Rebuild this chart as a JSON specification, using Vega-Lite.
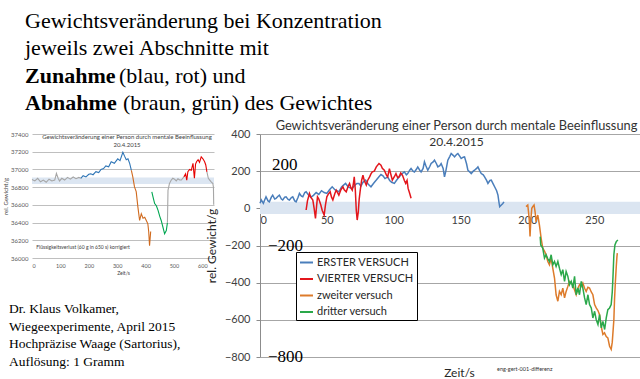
{
 "$schema": "https://vega.github.io/schema/vega-lite/v6.json",
 "padding": {"left": 2, "top": 0, "right": 0, "bottom": 0},
 "background": "white",
 "bounds": "flush",
 "spacing": 0,
 "config": {"view": {"stroke": null}, "font": "Lato"},
 "datasets": {
  "haupt": [
   {"versuch":"ERSTER VERSUCH","t":0,"g":27},{"versuch":"ERSTER VERSUCH","t":1,"g":45},{"versuch":"ERSTER VERSUCH","t":2.5,"g":27},{"versuch":"ERSTER VERSUCH","t":4.5,"g":62},{"versuch":"ERSTER VERSUCH","t":6,"g":40},{"versuch":"ERSTER VERSUCH","t":7,"g":35},{"versuch":"ERSTER VERSUCH","t":8.5,"g":60},{"versuch":"ERSTER VERSUCH","t":9.5,"g":71},{"versuch":"ERSTER VERSUCH","t":11,"g":50},{"versuch":"ERSTER VERSUCH","t":12,"g":54},{"versuch":"ERSTER VERSUCH","t":13.5,"g":65},{"versuch":"ERSTER VERSUCH","t":14.5,"g":71},{"versuch":"ERSTER VERSUCH","t":16,"g":50},{"versuch":"ERSTER VERSUCH","t":17,"g":45},{"versuch":"ERSTER VERSUCH","t":18.5,"g":60},{"versuch":"ERSTER VERSUCH","t":19.5,"g":62},{"versuch":"ERSTER VERSUCH","t":21,"g":48},{"versuch":"ERSTER VERSUCH","t":22,"g":45},{"versuch":"ERSTER VERSUCH","t":23.5,"g":58},{"versuch":"ERSTER VERSUCH","t":24.5,"g":62},{"versuch":"ERSTER VERSUCH","t":26,"g":40},{"versuch":"ERSTER VERSUCH","t":27,"g":35},{"versuch":"ERSTER VERSUCH","t":28.5,"g":60},{"versuch":"ERSTER VERSUCH","t":29.5,"g":80},{"versuch":"ERSTER VERSUCH","t":31,"g":65},{"versuch":"ERSTER VERSUCH","t":32,"g":62},{"versuch":"ERSTER VERSUCH","t":33.5,"g":85},{"versuch":"ERSTER VERSUCH","t":34.5,"g":89},{"versuch":"ERSTER VERSUCH","t":36,"g":75},{"versuch":"ERSTER VERSUCH","t":38,"g":60},{"versuch":"ERSTER VERSUCH","t":40,"g":70},{"versuch":"ERSTER VERSUCH","t":42,"g":85},{"versuch":"ERSTER VERSUCH","t":44,"g":75},{"versuch":"ERSTER VERSUCH","t":46,"g":95},{"versuch":"ERSTER VERSUCH","t":48,"g":85},{"versuch":"ERSTER VERSUCH","t":50,"g":80},{"versuch":"ERSTER VERSUCH","t":52,"g":100},{"versuch":"ERSTER VERSUCH","t":54,"g":116},{"versuch":"ERSTER VERSUCH","t":56,"g":100},{"versuch":"ERSTER VERSUCH","t":57.5,"g":95},{"versuch":"ERSTER VERSUCH","t":59,"g":89},{"versuch":"ERSTER VERSUCH","t":61,"g":115},{"versuch":"ERSTER VERSUCH","t":62.5,"g":125},{"versuch":"ERSTER VERSUCH","t":64,"g":134},{"versuch":"ERSTER VERSUCH","t":66,"g":115},{"versuch":"ERSTER VERSUCH","t":67.5,"g":110},{"versuch":"ERSTER VERSUCH","t":69,"g":107},{"versuch":"ERSTER VERSUCH","t":71,"g":125},{"versuch":"ERSTER VERSUCH","t":72.5,"g":134},{"versuch":"ERSTER VERSUCH","t":74,"g":134},{"versuch":"ERSTER VERSUCH","t":75.5,"g":120},{"versuch":"ERSTER VERSUCH","t":77,"g":140},{"versuch":"ERSTER VERSUCH","t":79,"g":152},{"versuch":"ERSTER VERSUCH","t":81,"g":130},{"versuch":"ERSTER VERSUCH","t":83,"g":116},{"versuch":"ERSTER VERSUCH","t":85,"g":135},{"versuch":"ERSTER VERSUCH","t":87,"g":152},{"versuch":"ERSTER VERSUCH","t":89,"g":170},{"versuch":"ERSTER VERSUCH","t":90.5,"g":182},{"versuch":"ERSTER VERSUCH","t":92,"g":175},{"versuch":"ERSTER VERSUCH","t":93.5,"g":160},{"versuch":"ERSTER VERSUCH","t":95.5,"g":169},{"versuch":"ERSTER VERSUCH","t":97,"g":150},{"versuch":"ERSTER VERSUCH","t":98.5,"g":140},{"versuch":"ERSTER VERSUCH","t":100.5,"g":134},{"versuch":"ERSTER VERSUCH","t":102,"g":150},{"versuch":"ERSTER VERSUCH","t":104,"g":169},{"versuch":"ERSTER VERSUCH","t":106,"g":185},{"versuch":"ERSTER VERSUCH","t":108,"g":196},{"versuch":"ERSTER VERSUCH","t":109.5,"g":180},{"versuch":"ERSTER VERSUCH","t":110.5,"g":187},{"versuch":"ERSTER VERSUCH","t":112,"g":205},{"versuch":"ERSTER VERSUCH","t":113,"g":214},{"versuch":"ERSTER VERSUCH","t":114.5,"g":200},{"versuch":"ERSTER VERSUCH","t":115.5,"g":196},{"versuch":"ERSTER VERSUCH","t":117,"g":210},{"versuch":"ERSTER VERSUCH","t":118,"g":223},{"versuch":"ERSTER VERSUCH","t":119.5,"g":205},{"versuch":"ERSTER VERSUCH","t":120.5,"g":196},{"versuch":"ERSTER VERSUCH","t":122,"g":215},{"versuch":"ERSTER VERSUCH","t":123,"g":250},{"versuch":"ERSTER VERSUCH","t":124,"g":230},{"versuch":"ERSTER VERSUCH","t":125.5,"g":205},{"versuch":"ERSTER VERSUCH","t":127,"g":225},{"versuch":"ERSTER VERSUCH","t":128,"g":241},{"versuch":"ERSTER VERSUCH","t":129.5,"g":250},{"versuch":"ERSTER VERSUCH","t":130.5,"g":259},{"versuch":"ERSTER VERSUCH","t":132,"g":240},{"versuch":"ERSTER VERSUCH","t":133,"g":223},{"versuch":"ERSTER VERSUCH","t":134.5,"g":230},{"versuch":"ERSTER VERSUCH","t":135.5,"g":241},{"versuch":"ERSTER VERSUCH","t":137,"g":215},{"versuch":"ERSTER VERSUCH","t":138,"g":169},{"versuch":"ERSTER VERSUCH","t":139,"g":200},{"versuch":"ERSTER VERSUCH","t":140.5,"g":259},{"versuch":"ERSTER VERSUCH","t":142,"g":280},{"versuch":"ERSTER VERSUCH","t":143,"g":295},{"versuch":"ERSTER VERSUCH","t":144.5,"g":285},{"versuch":"ERSTER VERSUCH","t":145.5,"g":277},{"versuch":"ERSTER VERSUCH","t":147,"g":290},{"versuch":"ERSTER VERSUCH","t":148,"g":295},{"versuch":"ERSTER VERSUCH","t":149.5,"g":280},{"versuch":"ERSTER VERSUCH","t":150.5,"g":268},{"versuch":"ERSTER VERSUCH","t":152,"g":275},{"versuch":"ERSTER VERSUCH","t":153,"g":277},{"versuch":"ERSTER VERSUCH","t":154.5,"g":240},{"versuch":"ERSTER VERSUCH","t":155.5,"g":205},{"versuch":"ERSTER VERSUCH","t":157,"g":195},{"versuch":"ERSTER VERSUCH","t":158,"g":187},{"versuch":"ERSTER VERSUCH","t":159.5,"g":200},{"versuch":"ERSTER VERSUCH","t":160.5,"g":205},{"versuch":"ERSTER VERSUCH","t":162,"g":215},{"versuch":"ERSTER VERSUCH","t":163,"g":223},{"versuch":"ERSTER VERSUCH","t":164.5,"g":200},{"versuch":"ERSTER VERSUCH","t":165.5,"g":187},{"versuch":"ERSTER VERSUCH","t":167,"g":180},{"versuch":"ERSTER VERSUCH","t":168,"g":169},{"versuch":"ERSTER VERSUCH","t":169.5,"g":150},{"versuch":"ERSTER VERSUCH","t":170.5,"g":134},{"versuch":"ERSTER VERSUCH","t":172,"g":150},{"versuch":"ERSTER VERSUCH","t":173,"g":152},{"versuch":"ERSTER VERSUCH","t":174.5,"g":130},{"versuch":"ERSTER VERSUCH","t":175.5,"g":116},{"versuch":"ERSTER VERSUCH","t":177,"g":95},{"versuch":"ERSTER VERSUCH","t":178,"g":71},{"versuch":"ERSTER VERSUCH","t":178.8,"g":30},{"versuch":"ERSTER VERSUCH","t":179.3,"g":9},{"versuch":"ERSTER VERSUCH","t":180.5,"g":18},{"versuch":"ERSTER VERSUCH","t":181.5,"g":25},{"versuch":"ERSTER VERSUCH","t":182.5,"g":35},
   {"versuch":"VIERTER VERSUCH","t":34.5,"g":-9},{"versuch":"VIERTER VERSUCH","t":35.5,"g":40},{"versuch":"VIERTER VERSUCH","t":37,"g":80},{"versuch":"VIERTER VERSUCH","t":38,"g":60},{"versuch":"VIERTER VERSUCH","t":39.5,"g":45},{"versuch":"VIERTER VERSUCH","t":40.5,"g":0},{"versuch":"VIERTER VERSUCH","t":41.5,"g":-54},{"versuch":"VIERTER VERSUCH","t":42.3,"g":10},{"versuch":"VIERTER VERSUCH","t":43,"g":62},{"versuch":"VIERTER VERSUCH","t":44,"g":50},{"versuch":"VIERTER VERSUCH","t":45.5,"g":18},{"versuch":"VIERTER VERSUCH","t":46.5,"g":-10},{"versuch":"VIERTER VERSUCH","t":48,"g":-36},{"versuch":"VIERTER VERSUCH","t":49,"g":20},{"versuch":"VIERTER VERSUCH","t":50,"g":62},{"versuch":"VIERTER VERSUCH","t":51,"g":75},{"versuch":"VIERTER VERSUCH","t":52.5,"g":89},{"versuch":"VIERTER VERSUCH","t":53.5,"g":60},{"versuch":"VIERTER VERSUCH","t":54.5,"g":45},{"versuch":"VIERTER VERSUCH","t":56,"g":80},{"versuch":"VIERTER VERSUCH","t":57,"g":98},{"versuch":"VIERTER VERSUCH","t":58,"g":85},{"versuch":"VIERTER VERSUCH","t":59,"g":71},{"versuch":"VIERTER VERSUCH","t":60.5,"g":100},{"versuch":"VIERTER VERSUCH","t":62,"g":116},{"versuch":"VIERTER VERSUCH","t":63,"g":100},{"versuch":"VIERTER VERSUCH","t":64.5,"g":89},{"versuch":"VIERTER VERSUCH","t":66,"g":120},{"versuch":"VIERTER VERSUCH","t":67,"g":134},{"versuch":"VIERTER VERSUCH","t":68,"g":110},{"versuch":"VIERTER VERSUCH","t":69,"g":98},{"versuch":"VIERTER VERSUCH","t":70,"g":140},{"versuch":"VIERTER VERSUCH","t":70.5,"g":169},{"versuch":"VIERTER VERSUCH","t":71.3,"g":100},{"versuch":"VIERTER VERSUCH","t":72,"g":-9},{"versuch":"VIERTER VERSUCH","t":72.7,"g":-63},{"versuch":"VIERTER VERSUCH","t":73.5,"g":-20},{"versuch":"VIERTER VERSUCH","t":74.2,"g":50},{"versuch":"VIERTER VERSUCH","t":75,"g":98},{"versuch":"VIERTER VERSUCH","t":76,"g":150},{"versuch":"VIERTER VERSUCH","t":77,"g":178},{"versuch":"VIERTER VERSUCH","t":78,"g":150},{"versuch":"VIERTER VERSUCH","t":79.5,"g":125},{"versuch":"VIERTER VERSUCH","t":80.5,"g":150},{"versuch":"VIERTER VERSUCH","t":82,"g":169},{"versuch":"VIERTER VERSUCH","t":83,"g":185},{"versuch":"VIERTER VERSUCH","t":84,"g":196},{"versuch":"VIERTER VERSUCH","t":85.5,"g":200},{"versuch":"VIERTER VERSUCH","t":87,"g":223},{"versuch":"VIERTER VERSUCH","t":89,"g":241},{"versuch":"VIERTER VERSUCH","t":90.5,"g":232},{"versuch":"VIERTER VERSUCH","t":91.5,"g":215},{"versuch":"VIERTER VERSUCH","t":93,"g":205},{"versuch":"VIERTER VERSUCH","t":94.5,"g":180},{"versuch":"VIERTER VERSUCH","t":95.5,"g":169},{"versuch":"VIERTER VERSUCH","t":96.8,"g":214},{"versuch":"VIERTER VERSUCH","t":97.8,"g":185},{"versuch":"VIERTER VERSUCH","t":99,"g":152},{"versuch":"VIERTER VERSUCH","t":100.5,"g":170},{"versuch":"VIERTER VERSUCH","t":101.7,"g":187},{"versuch":"VIERTER VERSUCH","t":103,"g":165},{"versuch":"VIERTER VERSUCH","t":104,"g":169},{"versuch":"VIERTER VERSUCH","t":105.3,"g":190},{"versuch":"VIERTER VERSUCH","t":106.6,"g":178},{"versuch":"VIERTER VERSUCH","t":108,"g":150},{"versuch":"VIERTER VERSUCH","t":109,"g":134},{"versuch":"VIERTER VERSUCH","t":110,"g":150},{"versuch":"VIERTER VERSUCH","t":110.8,"g":107},{"versuch":"VIERTER VERSUCH","t":112,"g":80},{"versuch":"VIERTER VERSUCH","t":113,"g":54},
   {"versuch":"zweiter versuch","t":199,"g":9},{"versuch":"zweiter versuch","t":200.3,"g":18},{"versuch":"zweiter versuch","t":201,"g":-30},{"versuch":"zweiter versuch","t":201.5,"g":-72},{"versuch":"zweiter versuch","t":202,"g":-152},{"versuch":"zweiter versuch","t":202.6,"g":-60},{"versuch":"zweiter versuch","t":203.3,"g":0},{"versuch":"zweiter versuch","t":204,"g":9},{"versuch":"zweiter versuch","t":205,"g":18},{"versuch":"zweiter versuch","t":205.8,"g":-20},{"versuch":"zweiter versuch","t":206.5,"g":-72},{"versuch":"zweiter versuch","t":207.2,"g":-50},{"versuch":"zweiter versuch","t":207.8,"g":-36},{"versuch":"zweiter versuch","t":209,"g":-89},{"versuch":"zweiter versuch","t":210.3,"g":-161},{"versuch":"zweiter versuch","t":211.5,"g":-214},{"versuch":"zweiter versuch","t":212.8,"g":-230},{"versuch":"zweiter versuch","t":214,"g":-250},{"versuch":"zweiter versuch","t":215.3,"g":-286},{"versuch":"zweiter versuch","t":216.5,"g":-304},{"versuch":"zweiter versuch","t":217.8,"g":-268},{"versuch":"zweiter versuch","t":219,"g":-322},{"versuch":"zweiter versuch","t":220.3,"g":-375},{"versuch":"zweiter versuch","t":221.5,"g":-465},{"versuch":"zweiter versuch","t":222.8,"g":-500},{"versuch":"zweiter versuch","t":224,"g":-447},{"versuch":"zweiter versuch","t":225.3,"g":-465},{"versuch":"zweiter versuch","t":226.5,"g":-429},{"versuch":"zweiter versuch","t":227.8,"g":-482},{"versuch":"zweiter versuch","t":229,"g":-447},{"versuch":"zweiter versuch","t":230.3,"g":-420},{"versuch":"zweiter versuch","t":231.5,"g":-393},{"versuch":"zweiter versuch","t":232.8,"g":-400},{"versuch":"zweiter versuch","t":234,"g":-411},{"versuch":"zweiter versuch","t":235.3,"g":-440},{"versuch":"zweiter versuch","t":236.5,"g":-465},{"versuch":"zweiter versuch","t":237.8,"g":-430},{"versuch":"zweiter versuch","t":239,"g":-411},{"versuch":"zweiter versuch","t":240.3,"g":-420},{"versuch":"zweiter versuch","t":241.5,"g":-402},{"versuch":"zweiter versuch","t":242.8,"g":-430},{"versuch":"zweiter versuch","t":244,"g":-447},{"versuch":"zweiter versuch","t":245.3,"g":-425},{"versuch":"zweiter versuch","t":246.5,"g":-429},{"versuch":"zweiter versuch","t":247.8,"g":-450},{"versuch":"zweiter versuch","t":249,"g":-465},{"versuch":"zweiter versuch","t":250.3,"g":-518},{"versuch":"zweiter versuch","t":251.5,"g":-536},{"versuch":"zweiter versuch","t":252.8,"g":-550},{"versuch":"zweiter versuch","t":254,"g":-572},{"versuch":"zweiter versuch","t":255.2,"g":-634},{"versuch":"zweiter versuch","t":256.5,"g":-679},{"versuch":"zweiter versuch","t":257.7,"g":-670},{"versuch":"zweiter versuch","t":259,"g":-690},{"versuch":"zweiter versuch","t":260.2,"g":-697},{"versuch":"zweiter versuch","t":261.5,"g":-742},{"versuch":"zweiter versuch","t":262.7,"g":-759},{"versuch":"zweiter versuch","t":263.5,"g":-720},{"versuch":"zweiter versuch","t":264,"g":-670},{"versuch":"zweiter versuch","t":264.7,"g":-600},{"versuch":"zweiter versuch","t":265.2,"g":-491},{"versuch":"zweiter versuch","t":265.8,"g":-400},{"versuch":"zweiter versuch","t":266.5,"g":-313},{"versuch":"zweiter versuch","t":267,"g":-260},{"versuch":"zweiter versuch","t":267.3,"g":-241},
   {"versuch":"dritter versuch","t":209.6,"g":-152},{"versuch":"dritter versuch","t":210,"g":-197},{"versuch":"dritter versuch","t":211.5,"g":-214},{"versuch":"dritter versuch","t":212.8,"g":-268},{"versuch":"dritter versuch","t":214,"g":-250},{"versuch":"dritter versuch","t":215.2,"g":-270},{"versuch":"dritter versuch","t":216.5,"g":-286},{"versuch":"dritter versuch","t":217.8,"g":-250},{"versuch":"dritter versuch","t":219,"g":-304},{"versuch":"dritter versuch","t":220.3,"g":-286},{"versuch":"dritter versuch","t":221.5,"g":-313},{"versuch":"dritter versuch","t":222.8,"g":-286},{"versuch":"dritter versuch","t":224,"g":-322},{"versuch":"dritter versuch","t":225.3,"g":-357},{"versuch":"dritter versuch","t":226.5,"g":-330},{"versuch":"dritter versuch","t":227.8,"g":-393},{"versuch":"dritter versuch","t":229,"g":-340},{"versuch":"dritter versuch","t":230.3,"g":-366},{"versuch":"dritter versuch","t":231.5,"g":-411},{"versuch":"dritter versuch","t":232.8,"g":-393},{"versuch":"dritter versuch","t":234,"g":-429},{"versuch":"dritter versuch","t":235.3,"g":-366},{"versuch":"dritter versuch","t":236.5,"g":-465},{"versuch":"dritter versuch","t":237.8,"g":-429},{"versuch":"dritter versuch","t":239,"g":-465},{"versuch":"dritter versuch","t":240.3,"g":-393},{"versuch":"dritter versuch","t":241.5,"g":-429},{"versuch":"dritter versuch","t":242.8,"g":-482},{"versuch":"dritter versuch","t":244,"g":-518},{"versuch":"dritter versuch","t":245.3,"g":-465},{"versuch":"dritter versuch","t":246.5,"g":-518},{"versuch":"dritter versuch","t":247.8,"g":-536},{"versuch":"dritter versuch","t":249,"g":-590},{"versuch":"dritter versuch","t":250.3,"g":-554},{"versuch":"dritter versuch","t":251.5,"g":-599},{"versuch":"dritter versuch","t":252.8,"g":-625},{"versuch":"dritter versuch","t":254,"g":-572},{"versuch":"dritter versuch","t":255.3,"g":-643},{"versuch":"dritter versuch","t":256.5,"g":-608},{"versuch":"dritter versuch","t":257.8,"g":-652},{"versuch":"dritter versuch","t":259,"g":-590},{"versuch":"dritter versuch","t":260.2,"g":-545},{"versuch":"dritter versuch","t":261.5,"g":-536},{"versuch":"dritter versuch","t":262.7,"g":-518},{"versuch":"dritter versuch","t":263.5,"g":-450},{"versuch":"dritter versuch","t":264,"g":-375},{"versuch":"dritter versuch","t":264.7,"g":-250},{"versuch":"dritter versuch","t":265.5,"g":-197},{"versuch":"dritter versuch","t":266.5,"g":-179},{"versuch":"dritter versuch","t":267.7,"g":-170}
  ],
  "klein": [
   {"abschnitt":"a","phase":"zwischen","t":0,"g":36886},{"abschnitt":"a","phase":"zwischen","t":10,"g":36870},{"abschnitt":"a","phase":"zwischen","t":20,"g":36900},{"abschnitt":"a","phase":"zwischen","t":30,"g":36860},{"abschnitt":"a","phase":"zwischen","t":40,"g":36880},{"abschnitt":"a","phase":"zwischen","t":50,"g":36855},{"abschnitt":"a","phase":"zwischen","t":60,"g":36890},{"abschnitt":"a","phase":"zwischen","t":70,"g":36870},{"abschnitt":"a","phase":"zwischen","t":80,"g":36880},{"abschnitt":"a","phase":"zwischen","t":86,"g":36955},{"abschnitt":"a","phase":"zwischen","t":92,"g":36900},{"abschnitt":"a","phase":"zwischen","t":97,"g":36870},{"abschnitt":"a","phase":"zwischen","t":105,"g":36900},{"abschnitt":"a","phase":"zwischen","t":115,"g":36880},{"abschnitt":"a","phase":"zwischen","t":125,"g":36910},{"abschnitt":"a","phase":"zwischen","t":135,"g":36890},{"abschnitt":"a","phase":"zwischen","t":145,"g":36915},{"abschnitt":"a","phase":"zwischen","t":155,"g":36895},{"abschnitt":"a","phase":"zwischen","t":165,"g":36910},{"abschnitt":"a","phase":"zwischen","t":172,"g":36900},
   {"abschnitt":"b","phase":"erster","t":172,"g":36900},{"abschnitt":"b","phase":"erster","t":180,"g":36930},{"abschnitt":"b","phase":"erster","t":190,"g":36915},{"abschnitt":"b","phase":"erster","t":200,"g":36945},{"abschnitt":"b","phase":"erster","t":207,"g":36950},{"abschnitt":"b","phase":"erster","t":215,"g":36940},{"abschnitt":"b","phase":"erster","t":225,"g":36975},{"abschnitt":"b","phase":"erster","t":235,"g":36965},{"abschnitt":"b","phase":"erster","t":243,"g":37000},{"abschnitt":"b","phase":"erster","t":252,"g":37010},{"abschnitt":"b","phase":"erster","t":260,"g":37040},{"abschnitt":"b","phase":"erster","t":270,"g":37030},{"abschnitt":"b","phase":"erster","t":279,"g":37086},{"abschnitt":"b","phase":"erster","t":290,"g":37070},{"abschnitt":"b","phase":"erster","t":302,"g":37120},{"abschnitt":"b","phase":"erster","t":310,"g":37100},{"abschnitt":"b","phase":"erster","t":320,"g":37193},{"abschnitt":"b","phase":"erster","t":326,"g":37150},{"abschnitt":"b","phase":"erster","t":332,"g":37110},{"abschnitt":"b","phase":"erster","t":338,"g":37120},{"abschnitt":"b","phase":"erster","t":344,"g":37068},{"abschnitt":"b","phase":"erster","t":350,"g":36990},
   {"abschnitt":"c","phase":"zweiter","t":350,"g":36990},{"abschnitt":"c","phase":"zweiter","t":355,"g":36916},{"abschnitt":"c","phase":"zweiter","t":361,"g":36802},{"abschnitt":"c","phase":"zweiter","t":367,"g":36750},{"abschnitt":"c","phase":"zweiter","t":373,"g":36575},{"abschnitt":"c","phase":"zweiter","t":379,"g":36424},{"abschnitt":"c","phase":"zweiter","t":385,"g":36500},{"abschnitt":"c","phase":"zweiter","t":391,"g":36450},{"abschnitt":"c","phase":"zweiter","t":397,"g":36460},{"abschnitt":"c","phase":"zweiter","t":403,"g":36420},{"abschnitt":"c","phase":"zweiter","t":408,"g":36386},{"abschnitt":"c","phase":"zweiter","t":411,"g":36300},{"abschnitt":"c","phase":"zweiter","t":414,"g":36140},{"abschnitt":"c","phase":"zweiter","t":418,"g":36300},
   {"abschnitt":"d","phase":"dritter","t":422,"g":36746},{"abschnitt":"d","phase":"dritter","t":427,"g":36680},{"abschnitt":"d","phase":"dritter","t":432,"g":36614},{"abschnitt":"d","phase":"dritter","t":438,"g":36590},{"abschnitt":"d","phase":"dritter","t":444,"g":36537},{"abschnitt":"d","phase":"dritter","t":450,"g":36470},{"abschnitt":"d","phase":"dritter","t":455,"g":36424},{"abschnitt":"d","phase":"dritter","t":461,"g":36350},{"abschnitt":"d","phase":"dritter","t":467,"g":36273},{"abschnitt":"d","phase":"dritter","t":473,"g":36310},{"abschnitt":"d","phase":"dritter","t":477,"g":36400},
   {"abschnitt":"e","phase":"zwischen","t":477,"g":36400},{"abschnitt":"e","phase":"zwischen","t":479,"g":36765},{"abschnitt":"e","phase":"zwischen","t":484,"g":36840},{"abschnitt":"e","phase":"zwischen","t":490,"g":36878},{"abschnitt":"e","phase":"zwischen","t":496,"g":36900},{"abschnitt":"e","phase":"zwischen","t":502,"g":36890},{"abschnitt":"e","phase":"zwischen","t":508,"g":36870},{"abschnitt":"e","phase":"zwischen","t":514,"g":36895},{"abschnitt":"e","phase":"zwischen","t":520,"g":36880},{"abschnitt":"e","phase":"zwischen","t":526,"g":36880},{"abschnitt":"e","phase":"zwischen","t":535,"g":36916},
   {"abschnitt":"f","phase":"vierter","t":535,"g":36916},{"abschnitt":"f","phase":"vierter","t":541,"g":36950},{"abschnitt":"f","phase":"vierter","t":545,"g":36880},{"abschnitt":"f","phase":"vierter","t":549,"g":36975},{"abschnitt":"f","phase":"vierter","t":555,"g":37000},{"abschnitt":"f","phase":"vierter","t":561,"g":36990},{"abschnitt":"f","phase":"vierter","t":567,"g":37068},{"abschnitt":"f","phase":"vierter","t":572,"g":36900},{"abschnitt":"f","phase":"vierter","t":576,"g":37060},{"abschnitt":"f","phase":"vierter","t":580,"g":37090},{"abschnitt":"f","phase":"vierter","t":585,"g":37110},{"abschnitt":"f","phase":"vierter","t":590,"g":37080},{"abschnitt":"f","phase":"vierter","t":596,"g":37143},{"abschnitt":"f","phase":"vierter","t":602,"g":37120},{"abschnitt":"f","phase":"vierter","t":608,"g":37087},{"abschnitt":"f","phase":"vierter","t":612,"g":37050},{"abschnitt":"f","phase":"vierter","t":616,"g":36973},
   {"abschnitt":"g","phase":"zwischen","t":616,"g":36973},{"abschnitt":"g","phase":"zwischen","t":621,"g":36900},{"abschnitt":"g","phase":"zwischen","t":626,"g":36880},{"abschnitt":"g","phase":"zwischen","t":631,"g":36860},{"abschnitt":"g","phase":"zwischen","t":637,"g":36840},{"abschnitt":"g","phase":"zwischen","t":639,"g":36800},{"abschnitt":"g","phase":"zwischen","t":640,"g":36600}
  ]
 },
 "resolve": {"scale": {"color": "independent"}, "legend": {"color": "independent"}},
 "vconcat": [
  {
   "width": 600, "height": 134,
   "layer": [
    {"data": {"values": [{"zeile": 1, "text": "Gewichtsveränderung bei Konzentration"}, {"zeile": 2, "text": "jeweils zwei Abschnitte mit"}]},
     "mark": {"type": "text", "align": "left", "baseline": "alphabetic", "font": "Liberation Serif", "fontSize": 22, "dx": -7, "color": "black"},
     "encoding": {"x": {"value": 0}, "y": {"field": "zeile", "type": "ordinal", "axis": null, "scale": {"domain": [1, 2, 3, 4], "range": [28, 110], "padding": 0}}, "text": {"field": "text"}}},
    {"data": {"values": [{"zeile": 3, "text": "Zunahme"}, {"zeile": 4, "text": "Abnahme"}]},
     "mark": {"type": "text", "align": "left", "baseline": "alphabetic", "font": "Liberation Serif", "fontSize": 22, "fontWeight": "bold", "dx": -7, "color": "black"},
     "encoding": {"x": {"value": 0}, "y": {"field": "zeile", "type": "ordinal", "axis": null, "scale": {"domain": [1, 2, 3, 4], "range": [28, 110], "padding": 0}}, "text": {"field": "text"}}},
    {"data": {"values": [{"zeile": 3, "text": "(blau, rot) und"}]},
     "mark": {"type": "text", "align": "left", "baseline": "alphabetic", "font": "Liberation Serif", "fontSize": 22, "dx": 87, "color": "black"},
     "encoding": {"x": {"value": 0}, "y": {"field": "zeile", "type": "ordinal", "axis": null, "scale": {"domain": [1, 2, 3, 4], "range": [28, 110], "padding": 0}}, "text": {"field": "text"}}},
    {"data": {"values": [{"zeile": 4, "text": "(braun, grün) des Gewichtes"}]},
     "mark": {"type": "text", "align": "left", "baseline": "alphabetic", "font": "Liberation Serif", "fontSize": 22, "dx": 91, "color": "black"},
     "encoding": {"x": {"value": 0}, "y": {"field": "zeile", "type": "ordinal", "axis": null, "scale": {"domain": [1, 2, 3, 4], "range": [28, 110], "padding": 0}}, "text": {"field": "text"}}}
   ]
  },
  {
   "bounds": "flush",
   "spacing": 228,
   "resolve": {"scale": {"color": "independent"}, "legend": {"color": "independent"}},
   "hconcat": [
    {
     "bounds": "flush",
     "spacing": 0,
     "vconcat": [
      {
       "width": 182, "height": 124,
       "title": {"text": "Gewichtsveränderung einer Person durch mentale Beeinflussung", "subtitle": "20.4.2015", "fontSize": 6, "subtitleFontSize": 6, "fontWeight": "normal", "color": "#404040", "subtitleColor": "#404040", "font": "Lato", "subtitleFont": "Lato", "offset": -17, "frame": "group", "anchor": "middle", "subtitlePadding": 2, "dx": 4},
       "layer": [
        {"data": {"values": [{"von": 36835, "bis": 36910}]},
         "mark": {"type": "rect", "color": "#dce6f2"},
         "encoding": {"y": {"field": "von", "type": "quantitative", "scale": {"domain": [36000, 37400], "nice": false, "zero": false}}, "y2": {"field": "bis"}}},
        {"data": {"name": "klein"},
         "mark": {"type": "line", "strokeWidth": 1.1},
         "encoding": {
          "x": {"field": "t", "type": "quantitative", "scale": {"domain": [0, 641], "nice": false},
                "axis": {"title": "Zeit/s", "values": [0, 100, 200, 300, 400, 500, 600], "tickCount": 30, "labelOverlap": false, "grid": false, "domain": false, "ticks": false, "labelFontSize": 5.5, "labelColor": "#595959", "labelPadding": 5, "titleFontSize": 5, "titleFontWeight": "normal", "titleColor": "#404040", "titlePadding": 2}},
          "y": {"field": "g", "type": "quantitative", "scale": {"domain": [36000, 37400], "nice": false, "zero": false},
                "axis": {"title": "rel. Gewicht/g", "format": "d", "values": [36000, 36200, 36400, 36600, 36800, 37000, 37200, 37400], "tickCount": 30, "labelOverlap": false, "grid": true, "gridColor": "#bfbfbf", "domain": false, "ticks": false, "labelFontSize": 6, "labelColor": "#595959", "labelPadding": 4, "titleFontSize": 6, "titleFontWeight": "normal", "titleColor": "#404040", "titlePadding": 2}},
          "color": {"field": "phase", "type": "nominal", "legend": null, "scale": {"domain": ["zwischen", "erster", "zweiter", "dritter", "vierter"], "range": ["#a6a6a6", "#2e75b6", "#d06a1e", "#00a651", "#e60000"]}},
          "detail": {"field": "abschnitt"}}},
        {"data": {"values": [{"hinweis": "Flüssigkeitsverlust (60 g in 650 s) korrigiert"}]},
         "mark": {"type": "text", "align": "left", "baseline": "middle", "fontSize": 5, "color": "#404040", "clip": false},
         "encoding": {"x": {"datum": 15}, "y": {"datum": 36121}, "text": {"field": "hinweis"}}}
       ]
      },
      {
       "width": 182, "height": 121,
       "data": {"values": [{"zeile": 1, "text": "Dr. Klaus Volkamer,"}, {"zeile": 2, "text": "Wiegeexperimente,  April 2015"}, {"zeile": 3, "text": "Hochpräzise Waage (Sartorius),"}, {"zeile": 4, "text": "Auflösung: 1 Gramm"}]},
       "mark": {"type": "text", "align": "left", "baseline": "alphabetic", "font": "Liberation Serif", "fontSize": 13.5, "dx": -23, "color": "black"},
       "encoding": {"x": {"value": 0}, "y": {"field": "zeile", "type": "ordinal", "axis": null, "scale": {"range": [55, 108], "padding": 0}}, "text": {"field": "text"}}
      }
     ]
    },
    {
     "width": 381, "height": 223,
     "title": {"text": "Gewichtsveränderung einer Person durch mentale Beeinflussung", "subtitle": "20.4.2015", "fontSize": 12.8, "subtitleFontSize": 12, "fontWeight": "normal", "color": "#333333", "subtitleColor": "#333333", "font": "Lato", "subtitleFont": "Lato", "frame": "group", "anchor": "middle", "offset": -20, "dx": 6, "subtitlePadding": 4},
     "layer": [
      {"data": {"values": [{"von": -30, "bis": 35}]},
       "mark": {"type": "rect", "color": "#dbe5f1"},
       "encoding": {"y": {"field": "von", "type": "quantitative", "scale": {"domain": [-800, 400], "nice": false, "zero": false}}, "y2": {"field": "bis"}}},
      {"data": {"name": "haupt"},
       "mark": {"type": "line", "strokeWidth": 1.5},
       "encoding": {
        "x": {"field": "t", "type": "quantitative", "scale": {"domain": [0, 285], "nice": false},
              "axis": {"title": "Zeit/s", "values": [0, 50, 100, 150, 200, 250], "tickCount": 30, "labelOverlap": false, "offset": -149, "grid": false, "domainColor": "#8c8c8c", "tickColor": "#8c8c8c", "tickSize": 4, "labelFontSize": 11, "labelColor": "#404040", "labelPadding": 2, "titleFontSize": 12, "titleFontWeight": "normal", "titleColor": "#262626", "titleY": 164, "titleX": 199, "titleBaseline": "middle"}},
        "y": {"field": "g", "type": "quantitative", "scale": {"domain": [-800, 400], "nice": false, "zero": false},
              "axis": {"title": "rel. Gewicht/g", "values": [-800, -600, -400, -200, 0, 200, 400], "tickCount": 30, "labelOverlap": false, "grid": true, "gridColor": "#a6a6a6", "domainColor": "#8c8c8c", "tickColor": "#8c8c8c", "tickSize": 4, "labelFontSize": 11, "labelColor": "#404040", "labelPadding": 6, "titleFontSize": 12, "titleFontWeight": "normal", "titleColor": "#262626", "titlePadding": 6}},
        "color": {"field": "versuch", "type": "nominal",
                  "scale": {"domain": ["ERSTER VERSUCH", "VIERTER VERSUCH", "zweiter versuch", "dritter versuch"], "range": ["#4a7ebb", "#e3161c", "#dd7b2b", "#2aa84a"]},
                  "legend": {"title": null, "orient": "none", "legendX": 36, "legendY": 118, "fillColor": "white", "strokeColor": "black", "padding": 3, "symbolType": "stroke", "symbolSize": 169, "symbolStrokeWidth": 2, "labelFontSize": 11, "labelColor": "#262626", "labelFont": "Lato", "rowPadding": 3.5, "labelOffset": 3, "labelLimit": 200}}}},
      {"data": {"values": [{"marke": 200}]},
       "mark": {"type": "text", "align": "left", "baseline": "alphabetic", "font": "Liberation Serif", "fontSize": 17, "color": "black", "dy": -1},
       "encoding": {"x": {"datum": 9}, "y": {"field": "marke", "type": "quantitative"}, "text": {"field": "marke", "type": "quantitative"}}},
      {"data": {"values": [{"marke": -200}, {"marke": -800}]},
       "mark": {"type": "text", "align": "left", "baseline": "middle", "font": "Liberation Serif", "fontSize": 17, "color": "black"},
       "encoding": {"x": {"datum": 6}, "y": {"field": "marke", "type": "quantitative"}, "text": {"field": "marke", "type": "quantitative"}}},
      {"data": {"values": [{"hinweis": "eng-gert-001-differenz"}]},
       "mark": {"type": "text", "align": "center", "baseline": "middle", "fontSize": 5.5, "color": "#333333", "clip": false},
       "encoding": {"x": {"datum": 198}, "y": {"datum": -866}, "text": {"field": "hinweis"}}}
     ]
    }
   ]
  }
 ]
}
